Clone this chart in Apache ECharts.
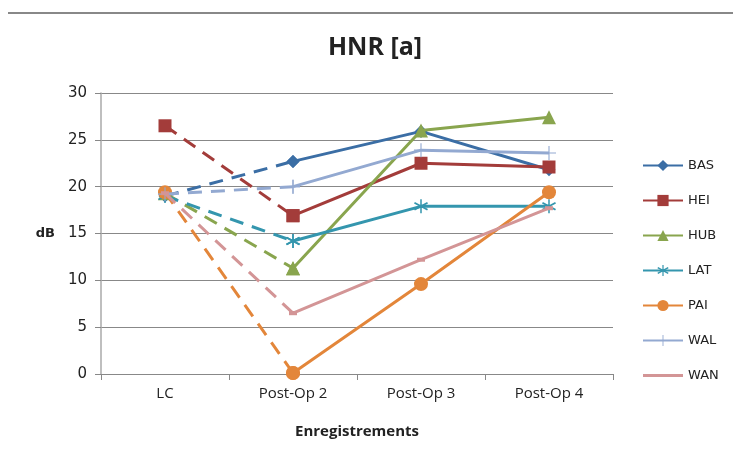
<!DOCTYPE html>
<html>
<head>
<meta charset="utf-8">
<script src="https://cdn.jsdelivr.net/npm/echarts@6/dist/echarts.min.js"></script>
<style>
  html, body { margin: 0; padding: 0; background: #fff; }
  #chart { width: 733px; height: 456px; }
</style>
</head>
<body>
<div id="chart"></div>
<script>
  // categories + values (dB)
  const categories = ['LC', 'Post-Op 2', 'Post-Op 3', 'Post-Op 4'];
  const yTicks = [0, 5, 10, 15, 20, 25, 30];
  const seriesNames = ['BAS', 'HEI', 'HUB', 'LAT', 'PAI', 'WAL', 'WAN'];
  const BAS = [19.0, 22.7, 25.9, 21.8];
  const HEI = [26.5, 16.9, 22.5, 22.1];
  const HUB = [19.3, 11.3, 26.0, 27.4];
  const LAT = [19.0, 14.2, 17.9, 17.9];
  const PAI = [19.4, 0.1, 9.6, 19.4];
  const WAL = [19.2, 20.0, 23.9, 23.6];
  const WAN = [19.3, 6.5, 12.2, 17.7];
  const values = [BAS, HEI, HUB, LAT, PAI, WAL, WAN];

  const colors = ['#3b6ea5', '#a33c3a', '#89a54e', '#3496ae', '#e3863a', '#93a9d1', '#d39596'];
  // asterisk & plus markers
  const asterisk = 'path://M-0.1,-1L0.1,-1L0.1,1L-0.1,1Z' +
    'M0.806,-0.604L0.926,-0.396L-0.806,0.604L-0.926,0.396Z' +
    'M-0.926,-0.396L-0.806,-0.604L0.926,0.396L0.806,0.604Z';
  const plus = 'path://M-1,-0.08L1,-0.08L1,0.08L-1,0.08ZM-0.08,-1L0.08,-1L0.08,1L-0.08,1Z';
  const symbols = ['diamond', 'rect', 'triangle', asterisk, 'circle', plus, 'rect'];
  const symbolSizes = [13, 13, 14, 14, 14, 14, [8, 4]];

  let chart = echarts.init(document.getElementById('chart'));

  let series = [];
  // solid part first (legend icon comes from it), dashed LC -> Post-Op 2 second
  seriesNames.forEach((name, i) => {
    let v = values[i];
    series.push({
      name: name,
      type: 'line',
      data: ['-', v[1], v[2], v[3]],
      symbol: symbols[i],
      symbolSize: symbolSizes[i],
      color: colors[i],
      lineStyle: { width: 3, color: colors[i] },
      itemStyle: { color: colors[i] },
      z: 2 + i
    });
  });
  seriesNames.forEach((name, i) => {
    let v = values[i];
    series.push({
      name: name,
      type: 'line',
      data: [v[0], v[1], '-', '-'],
      symbol: symbols[i],
      symbolSize: symbolSizes[i],
      color: colors[i],
      lineStyle: { width: 3, color: colors[i], type: [14, 9] },
      itemStyle: { color: colors[i] },
      z: 2 + i
    });
  });

  // WAN has no real marker in the legend, just the line
  let legendData = seriesNames.map(n => n === 'WAN' ? { name: n, icon: 'path://M0,0L40,0L40,3L0,3Z' } : n);

  let option = {
    animation: false,
    title: {
      text: 'HNR [a]',
      left: 370,
      top: 30,
      textAlign: 'center',
      textStyle: { fontFamily: 'Open Sans', fontWeight: 'bold', fontSize: 25, color: '#222' }
    },
    graphic: [{
      type: 'line',
      shape: { x1: 8, y1: 13, x2: 733, y2: 13 },
      style: { stroke: '#888', lineWidth: 2 }
    }],
    legend: {
      orient: 'vertical',
      left: 637,
      top: 154,
      itemWidth: 40,
      itemHeight: 14,
      itemGap: 22,
      data: legendData,
      textStyle: { fontFamily: 'DejaVu Sans', fontSize: 13, color: '#222' }
    },
    grid: { left: 101, right: 120, top: 93, bottom: 82 },
    xAxis: {
      type: 'category',
      data: categories,
      boundaryGap: true,
      name: 'Enregistrements',
      nameLocation: 'middle',
      nameGap: 50,
      nameTextStyle: { fontFamily: 'Open Sans', fontWeight: 'bold', fontSize: 15, color: '#222' },
      axisLine: { lineStyle: { color: '#888' } },
      axisTick: { show: true, length: 6, lineStyle: { color: '#888' } },
      axisLabel: { fontFamily: 'Open Sans', fontSize: 15, color: '#222', margin: 12 }
    },
    yAxis: {
      type: 'value',
      min: yTicks[0],
      max: yTicks[yTicks.length - 1],
      interval: 5,
      name: 'dB',
      nameLocation: 'middle',
      nameRotate: 0,
      nameGap: 46,
      nameTextStyle: { fontFamily: 'DejaVu Sans', fontWeight: 'bold', fontSize: 13, color: '#222' },
      axisLine: { show: true, lineStyle: { color: '#aaa', width: 1.5 } },
      axisTick: { show: true, length: 6, lineStyle: { color: '#888' } },
      axisLabel: { fontFamily: 'DejaVu Sans', fontSize: 15, color: '#222', margin: 14 },
      splitLine: { lineStyle: { color: '#888' } }
    },
    series: series
  };

  chart.setOption(option);
</script>
</body>
</html>
